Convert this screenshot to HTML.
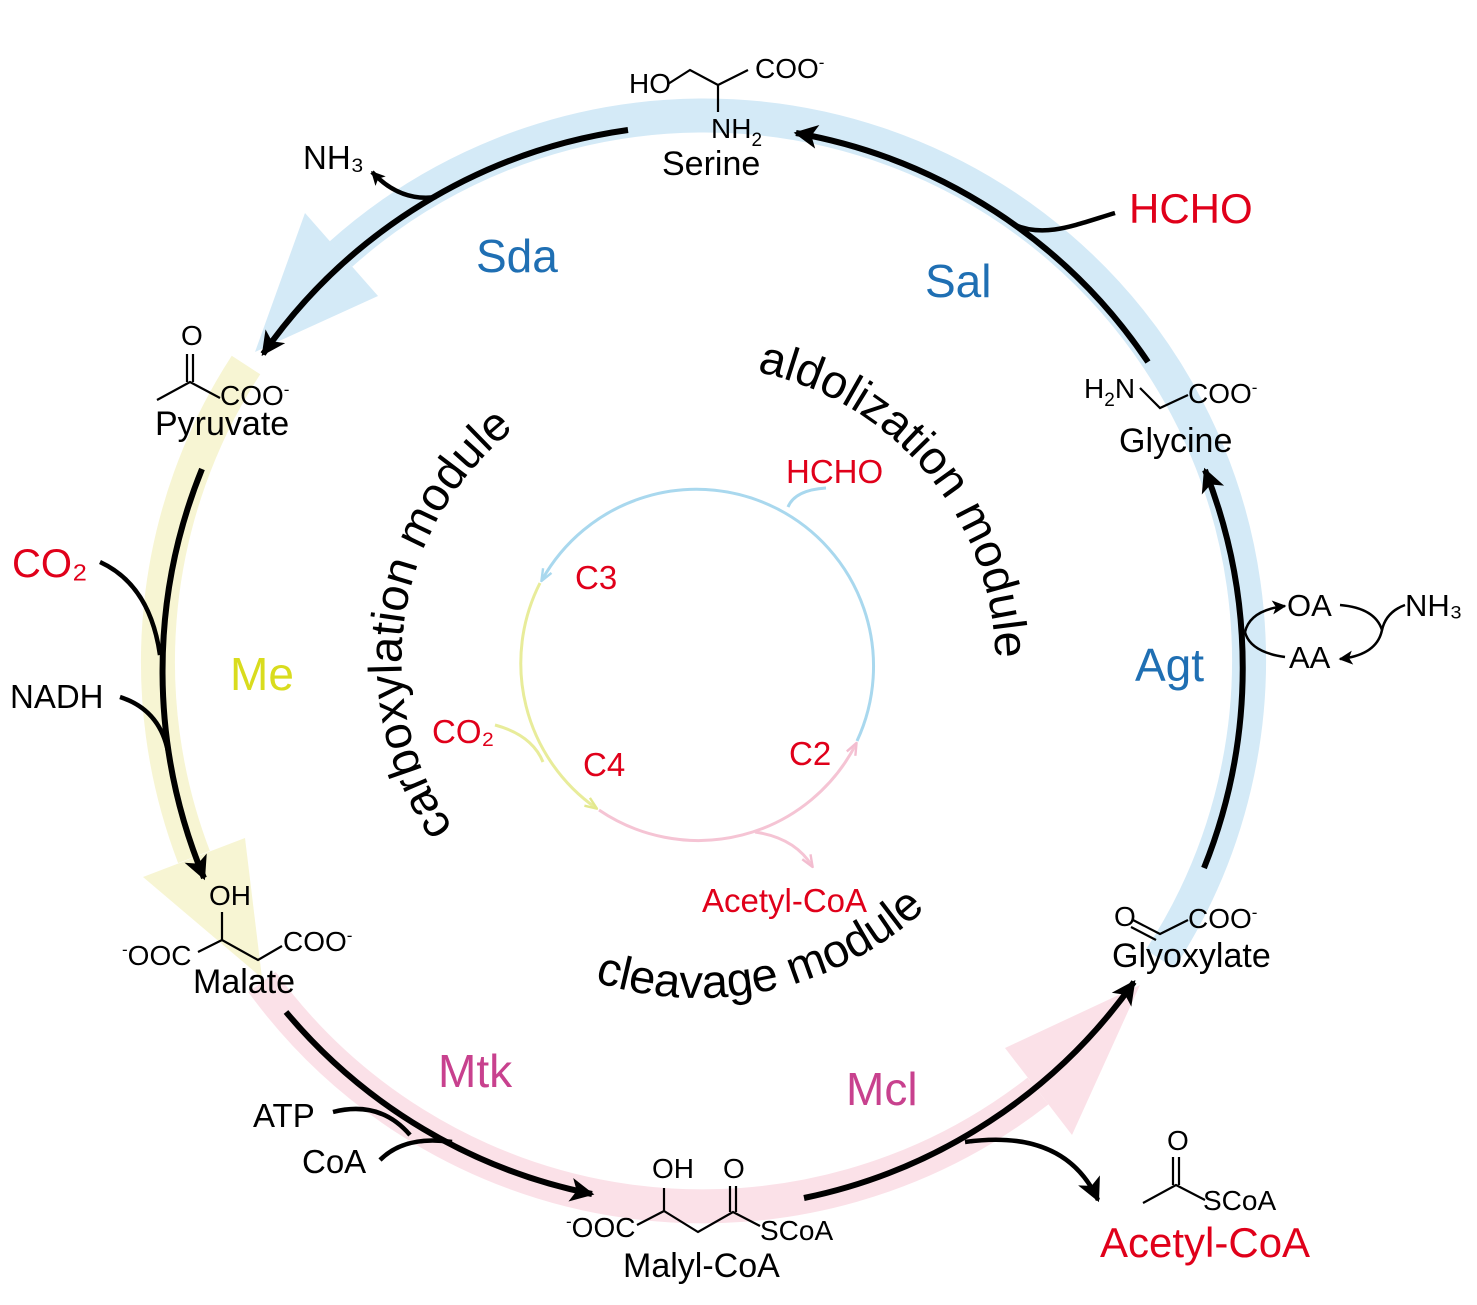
<!DOCTYPE html>
<html><head><meta charset="utf-8"><style>
html,body{margin:0;padding:0;background:#fff}
svg{display:block;font-family:"Liberation Sans",Arial,sans-serif}
</style></head><body>
<svg width="1477" height="1305" viewBox="0 0 1477 1305" xmlns="http://www.w3.org/2000/svg">
<defs>
<marker id="ah" viewBox="0 0 10 10" refX="9" refY="5" markerWidth="30" markerHeight="24" markerUnits="userSpaceOnUse" orient="auto"><path d="M0,0 L10,5 L0,10 L2.5,5 z" fill="#000"/></marker>
<marker id="as" viewBox="0 0 10 10" refX="9" refY="5" markerWidth="16" markerHeight="14" markerUnits="userSpaceOnUse" orient="auto"><path d="M0,0 L10,5 L0,10 L2.5,5 z" fill="#000"/></marker>
<marker id="ib" viewBox="0 0 10 10" refX="9" refY="5" markerWidth="14" markerHeight="12" markerUnits="userSpaceOnUse" orient="auto"><path d="M0,1 L10,5 L0,9" fill="none" stroke="#a9d8ee" stroke-width="2"/></marker>
<marker id="iy" viewBox="0 0 10 10" refX="9" refY="5" markerWidth="14" markerHeight="12" markerUnits="userSpaceOnUse" orient="auto"><path d="M0,1 L10,5 L0,9" fill="none" stroke="#e3e88e" stroke-width="2"/></marker>
<marker id="ip" viewBox="0 0 10 10" refX="9" refY="5" markerWidth="14" markerHeight="12" markerUnits="userSpaceOnUse" orient="auto"><path d="M0,1 L10,5 L0,9" fill="none" stroke="#f3bdd0" stroke-width="2"/></marker>
<path id="aldo" d="M757,372 A298,298 0 0 1 968,789"/>
<path id="carb" d="M453.4,828 A295,295 0 0 1 580,390"/>
<path id="clev" d="M594.5,981.6 A335,335 0 0 0 1012.8,777.6"/>
</defs>

<path d="M341,254 A545,545 0 0 1 1160,959" fill="none" stroke="#d4eaf7" stroke-width="34"/>
<polygon points="378,296 305,213 255,352" fill="#d4eaf7"/>
<path d="M246,365 A545,545 0 0 0 194,857" fill="none" stroke="#f7f5d3" stroke-width="34"/>
<polygon points="245,838 143,877 262,978" fill="#f7f5d3"/>
<path d="M262,982 A545,545 0 0 0 1038,1091" fill="none" stroke="#fbe1e8" stroke-width="34"/>
<polygon points="1005,1048 1072,1135 1140,985" fill="#fbe1e8"/>

<g fill="none" stroke="#000" stroke-width="6">
<path d="M1148,362 A537,537 0 0 0 796,133" marker-end="url(#ah)"/>
<path d="M628,130 A537,537 0 0 0 263,354" marker-end="url(#ah)"/>
<path d="M202,469 A537,537 0 0 0 204,878" marker-end="url(#ah)"/>
<path d="M286,1012 A537,537 0 0 0 592,1194" marker-end="url(#ah)"/>
<path d="M804,1198 A537,537 0 0 0 1134,982" marker-end="url(#ah)"/>
<path d="M1204,868 A537,537 0 0 0 1205,470" marker-end="url(#ah)"/>
</g>
<g fill="none" stroke="#000" stroke-width="4.5">
<path d="M1115,213 C1075,225 1045,238 1015,225"/>
<path d="M436,197 Q400,202 372,172" marker-end="url(#as)"/>
<path d="M100,562 Q150,585 160,655"/>
<path d="M120,697 Q160,710 168,752"/>
<path d="M333,1112 Q380,1100 410,1135"/>
<path d="M380,1160 Q405,1135 452,1142"/>
<path d="M965,1142 Q1065,1128 1098,1200" marker-end="url(#ah)"/>
</g>
<g fill="none" stroke="#000" stroke-width="2.5">
<path d="M1245,632 Q1250,610 1285,606" marker-end="url(#as)"/>
<path d="M1245,632 Q1250,652 1285,657"/>
<path d="M1340,605 Q1375,608 1382,630 Q1377,655 1340,659" marker-end="url(#as)"/>
<path d="M1405,605 Q1386,612 1382,630"/>
</g>

<g fill="none" stroke-width="3">
<path d="M857,741 A177,177 0 0 0 542,580" stroke="#a9d8ee" marker-end="url(#ib)"/>
<path d="M826,488 Q795,490 788,507" stroke="#a9d8ee"/>
<path d="M540,583 A177,177 0 0 0 596,808" stroke="#e8ec9a" marker-end="url(#iy)"/>
<path d="M495,725 Q532,735 543,762" stroke="#e8ec9a"/>
<path d="M599,810 A177,177 0 0 0 856,744" stroke="#f5c4d4" marker-end="url(#ip)"/>
<path d="M755,832 Q795,838 812,866" stroke="#f5c4d4" marker-end="url(#ip)"/>
</g>
<g fill="#e0001a" font-size="33">
<text x="786" y="483">HCHO</text>
<text x="575" y="589">C3</text>
<text x="432" y="743">CO₂</text>
<text x="583" y="776">C4</text>
<text x="789" y="765">C2</text>
<text x="702" y="912">Acetyl-CoA</text>
</g>

<g font-size="47" fill="#000">
<text><textPath href="#aldo">aldolization module</textPath></text>
<text><textPath href="#carb">carboxylation module</textPath></text>
<text><textPath href="#clev">cleavage module</textPath></text>
</g>

<g font-size="46">
<text x="476" y="272" fill="#1f6fb3">Sda</text>
<text x="925" y="297" fill="#1f6fb3">Sal</text>
<text x="1135" y="681" fill="#1f6fb3">Agt</text>
<text x="230" y="690" fill="#d9dc1e">Me</text>
<text x="438" y="1087" fill="#c8418e">Mtk</text>
<text x="846" y="1105" fill="#c8418e">Mcl</text>
</g>
<g fill="#e0001a">
<text x="1129" y="223" font-size="42">HCHO</text>
<text x="12" y="577" font-size="40">CO₂</text>
<text x="1100" y="1257" font-size="42">Acetyl-CoA</text>
</g>
<g font-size="33" fill="#000">
<text x="10" y="708">NADH</text>
<text x="253" y="1127">ATP</text>
<text x="302" y="1173">CoA</text>
<text x="303" y="169">NH₃</text>
<text x="1287" y="616" font-size="31">OA</text>
<text x="1289" y="668" font-size="31">AA</text>
<text x="1405" y="616" font-size="31">NH₃</text>
</g>

<g fill="none" stroke="#000" stroke-width="2.2">
<path d="M668,84 L690,70 L718,85 L748,70 M718,85 L718,112"/>
<path d="M157,400 L190,382 L220,398 M187,354 L187,382 M193,354 L193,382"/>
<path d="M198,952 L222,940 L258,960 L282,946 M222,912 L222,940"/>
<path d="M637,1225 L664,1211 L698,1232 L733,1212 L760,1226 M664,1188 L664,1211 M730,1186 L730,1212 M736,1186 L736,1212"/>
<path d="M1140,388 L1160,408 L1188,395"/>
<path d="M1133,920 L1160,934 L1188,920 M1131,927 L1156,940"/>
<path d="M1143,1203 L1176,1185 L1205,1200 M1173,1157 L1173,1185 M1179,1157 L1179,1185"/>
</g>
<g font-size="28" fill="#000">
<text x="629" y="93">HO</text>
<text x="755" y="78">COO<tspan font-size="17" dy="-10">-</tspan></text>
<text x="711" y="138">NH<tspan font-size="19" dy="8">2</tspan></text>
<text x="181" y="345">O</text>
<text x="220" y="405">COO<tspan font-size="17" dy="-10">-</tspan></text>
<text x="209" y="905">OH</text>
<text x="122" y="965"><tspan font-size="17" dy="-10">-</tspan><tspan dy="10">OOC</tspan></text>
<text x="283" y="951">COO<tspan font-size="17" dy="-10">-</tspan></text>
<text x="652" y="1178">OH</text>
<text x="723" y="1178">O</text>
<text x="566" y="1237"><tspan font-size="17" dy="-10">-</tspan><tspan dy="10">OOC</tspan></text>
<text x="760" y="1240">SCoA</text>
<text x="1084" y="398">H<tspan font-size="19" dy="8">2</tspan><tspan dy="-8">N</tspan></text>
<text x="1188" y="403">COO<tspan font-size="17" dy="-10">-</tspan></text>
<text x="1114" y="926">O</text>
<text x="1188" y="928">COO<tspan font-size="17" dy="-10">-</tspan></text>
<text x="1167" y="1150">O</text>
<text x="1203" y="1210">SCoA</text>
</g>
<g font-size="34" fill="#000">
<text x="662" y="175">Serine</text>
<text x="155" y="435">Pyruvate</text>
<text x="193" y="993">Malate</text>
<text x="623" y="1277">Malyl-CoA</text>
<text x="1119" y="452">Glycine</text>
<text x="1112" y="967">Glyoxylate</text>
</g>
</svg>
</body></html>
